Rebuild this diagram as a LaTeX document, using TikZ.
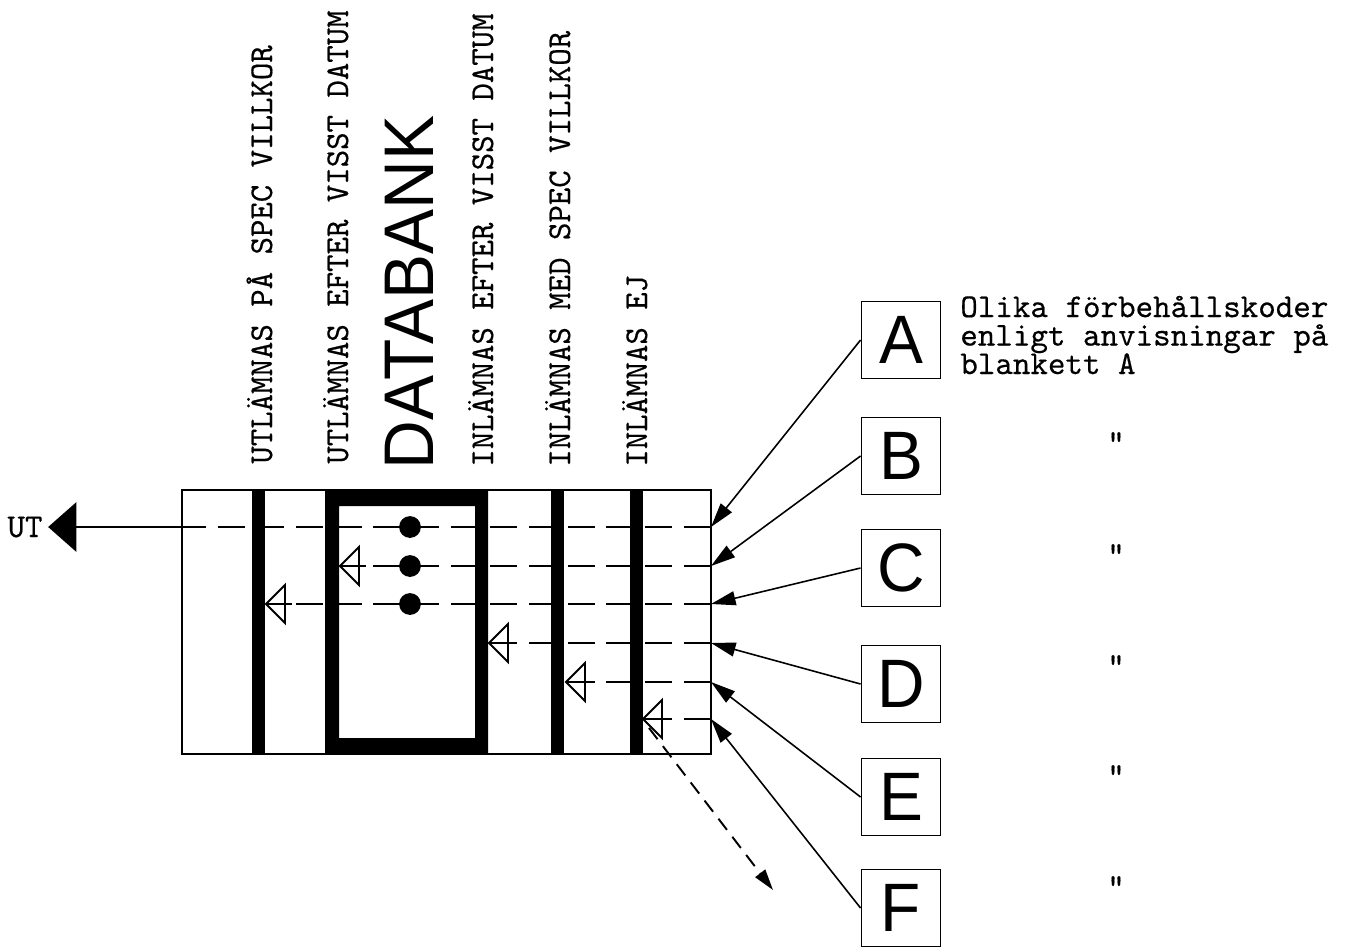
\documentclass[tikz,border=0pt]{standalone}
\usepackage{fontspec}
\newfontfamily\bigsans[FakeStretch=0.96]{Liberation Sans}
\newfontfamily\typer[FakeBold=0.4]{lmmono10-regular.otf}
\usetikzlibrary{positioning, arrows.meta}

\tikzset{
  frame/.style={line width=1.1pt},
  keyline/.style={line width=1.1pt, dash pattern=on 15.3pt off 6.8pt},
  feed/.style={line width=0.9pt, -{Triangle[length=14pt, width=8pt]}},
  codebox/.style={draw, line width=1.1pt, minimum width=1.58cm, minimum height=1.54cm, inner sep=0pt, font=\bigsans\fontsize{39}{39}\selectfont},
  vlabel/.style={rotate=90, anchor=base west, inner sep=0pt, font=\typer\fontsize{18.9}{20}\selectfont},
  note/.style={anchor=base west, inner sep=0pt, font=\typer\fontsize{19}{16.2}\selectfont},
  gate/.style={line width=1.1pt, line join=miter}
}
\newcommand{\gatetip}[1]{%
  \draw[gate] (#1) ++(19,-19) -- (#1) -- ++(19,19) -- cycle;
  \draw[gate] (#1) -- ++(26,0);
}

\begin{document}
\begin{tikzpicture}[x=0.02cm, y=-0.02cm]
  \useasboundingbox (0,0) rectangle (1356,947);

  % headings over the bank
  \node[vlabel] (outspec) at (272,464) {UTLÄMNAS PÅ SPEC VILLKOR};
  \node[vlabel] (outdate) at (348,464) {UTLÄMNAS EFTER VISST DATUM};
  \node[vlabel, font=\bigsans\fontsize{40}{40}\selectfont] (bank) at (433,470) {DATABANK};
  \node[vlabel] (indate) at (493,467) {INLÄMNAS EFTER VISST DATUM};
  \node[vlabel] (inspec) at (570,467) {INLÄMNAS MED SPEC VILLKOR};
  \node[vlabel] (innot) at (647,467) {INLÄMNAS EJ};

  % the bank with its gates
  \draw[frame] (182,490) rectangle (711,754);
  \fill (252,490) rectangle (265,754);
  \fill[even odd rule] (325,490) rectangle (488,754) (339,506) rectangle (475,738);
  \fill (551,490) rectangle (564,754);
  \fill (630,490) rectangle (643,754);

  \coordinate (inA) at (711,527);
  \coordinate (inB) at (711,566);
  \coordinate (inC) at (711,604);
  \coordinate (inD) at (711,643);
  \coordinate (inE) at (711,682);
  \coordinate (inF) at (711,719);

  \coordinate (outA) at (182,527);
  \coordinate (gateB) at (340,566);
  \coordinate (gateC) at (266,604);
  \coordinate (gateD) at (489,643);
  \coordinate (gateE) at (566,682);
  \coordinate (gateF) at (643,719);

  \draw[keyline] (inA) -- (outA);
  \draw[keyline] (inB) -- (gateB);
  \draw[keyline] (inC) -- (gateC);
  \draw[keyline] (inD) -- (gateD);
  \draw[keyline] (inE) -- (gateE);
  \draw[keyline] (inF) -- (gateF);

  \gatetip{gateB}
  \gatetip{gateC}
  \gatetip{gateD}
  \gatetip{gateE}
  \gatetip{gateF}

  \fill (410,527) circle (6.2pt);
  \fill (410,566) circle (6.2pt);
  \fill (410,604) circle (6.2pt);

  % out of the bank
  \node[note, anchor=center] (ut) at (25,527) {UT};
  \draw[frame, -{Triangle[length=16pt, width=28pt]}] (outA) -- ([xshift=3pt]ut.east);

  \coordinate (leak) at (649,728);
  \coordinate (drop) at (773,890);
  \draw[line width=1.1pt, dash pattern=on 8pt off 5pt, -{Triangle[length=12pt, width=7pt]}] (leak) -- (drop);

  % reservation codes
  \node[codebox] (A) at (901,340) {A};
  \node[codebox] (B) at (901,456) {B};
  \node[codebox] (C) at (901,568) {C};
  \node[codebox] (D) at (901,684) {D};
  \node[codebox] (E) at (901,797) {E};
  \node[codebox] (F) at (901,908) {F};

  \draw[feed] (A.west) -- (inA);
  \draw[feed] (B.west) -- (inB);
  \draw[feed] (C.west) -- (inC);
  \draw[feed] (D.west) -- (inD);
  \draw[feed] (E.west) -- (inE);
  \draw[feed] (F.west) -- (inF);

  \node[note, align=left] (rules) at (960,374) {Olika förbehållskoder\\enligt anvisningar på\\blankett A};

  \foreach \y/\n in {436/B, 548/C, 659/D, 769/E, 880/F}
    \node[note, anchor=base] (ditto\n) at (1116,\y+17) {"};
\end{tikzpicture}
\end{document}
